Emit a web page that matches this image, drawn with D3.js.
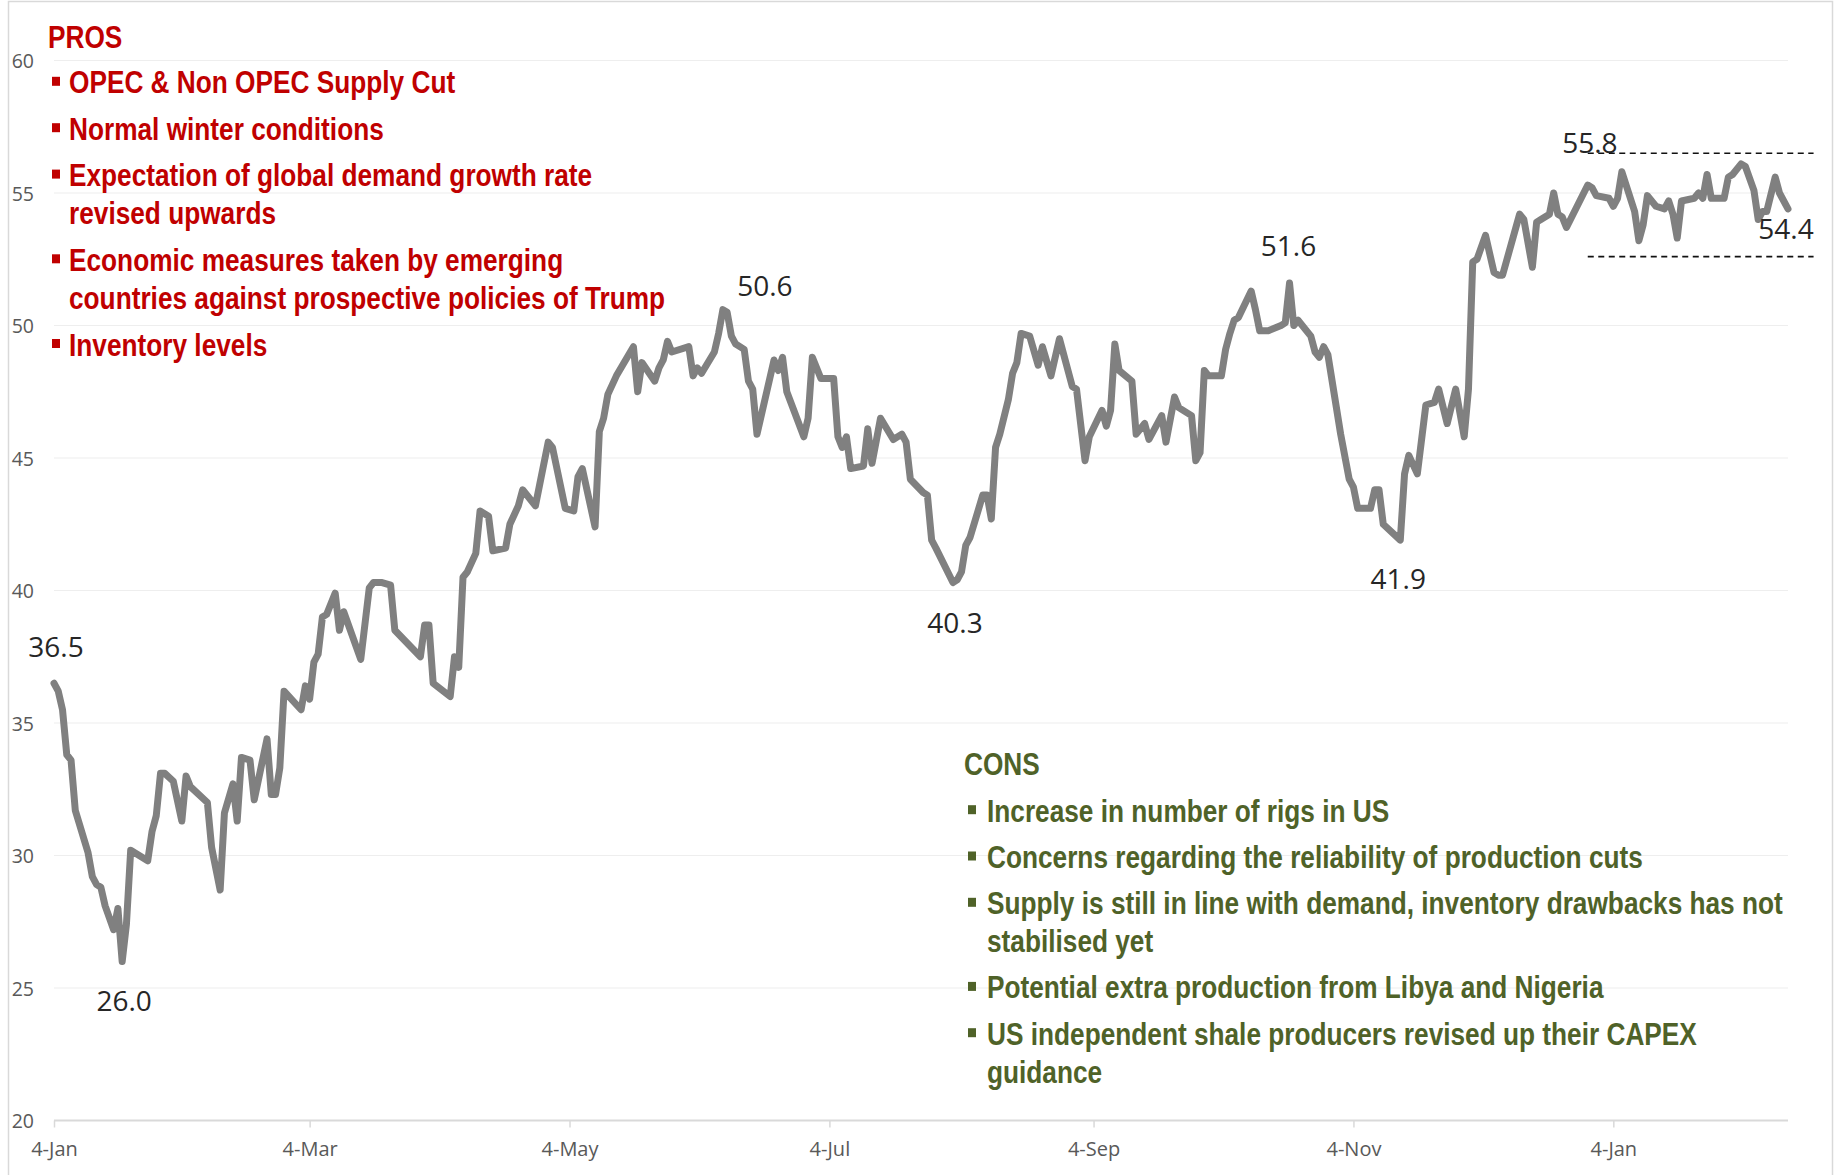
<!DOCTYPE html>
<html>
<head>
<meta charset="utf-8">
<script src="https://cdn.jsdelivr.net/npm/d3@7/dist/d3.min.js"></script>
<style>
  html, body { margin: 0; padding: 0; background: #ffffff; }
  svg { display: block; }
</style>
</head>
<body>
<svg id="chart" width="1835" height="1175"></svg>
<script>
// ---- Data -------------------------------------------------------------
const dates = [
  "2016-01-04","2016-01-05","2016-01-06","2016-01-07","2016-01-08","2016-01-09","2016-01-12","2016-01-13","2016-01-14","2016-01-15",
  "2016-01-16","2016-01-18","2016-01-19","2016-01-20","2016-01-21","2016-01-22","2016-01-26","2016-01-27","2016-01-28","2016-01-29",
  "2016-01-30","2016-02-01","2016-02-03","2016-02-04","2016-02-05","2016-02-09","2016-02-10","2016-02-12","2016-02-13","2016-02-15",
  "2016-02-16","2016-02-17","2016-02-19","2016-02-20","2016-02-23","2016-02-24","2016-02-25","2016-02-26","2016-02-27","2016-03-02",
  "2016-03-03","2016-03-04","2016-03-05","2016-03-06","2016-03-07","2016-03-08","2016-03-10","2016-03-11","2016-03-12","2016-03-16",
  "2016-03-18","2016-03-19","2016-03-21","2016-03-23","2016-03-24","2016-03-30","2016-03-31","2016-04-01","2016-04-02","2016-04-06",
  "2016-04-07","2016-04-08","2016-04-09","2016-04-10","2016-04-12","2016-04-13","2016-04-15","2016-04-16","2016-04-19","2016-04-20",
  "2016-04-22","2016-04-23","2016-04-26","2016-04-27","2016-04-29","2016-04-30","2016-05-03","2016-05-05","2016-05-06","2016-05-07",
  "2016-05-10","2016-05-11","2016-05-12","2016-05-13","2016-05-15","2016-05-19","2016-05-20","2016-05-21","2016-05-24","2016-05-25",
  "2016-05-26","2016-05-27","2016-05-28","2016-06-01","2016-06-02","2016-06-03","2016-06-04","2016-06-07","2016-06-08","2016-06-09",
  "2016-06-10","2016-06-11","2016-06-12","2016-06-14","2016-06-15","2016-06-16","2016-06-17","2016-06-21","2016-06-22","2016-06-23",
  "2016-06-24","2016-06-28","2016-06-29","2016-06-30","2016-07-02","2016-07-05","2016-07-06","2016-07-07","2016-07-08","2016-07-09",
  "2016-07-12","2016-07-13","2016-07-14","2016-07-16","2016-07-19","2016-07-21","2016-07-22","2016-07-23","2016-07-26","2016-07-27",
  "2016-07-28","2016-07-29","2016-08-02","2016-08-03","2016-08-04","2016-08-05","2016-08-06","2016-08-09","2016-08-10","2016-08-11",
  "2016-08-12","2016-08-13","2016-08-15","2016-08-16","2016-08-17","2016-08-18","2016-08-20","2016-08-22","2016-08-23","2016-08-25",
  "2016-08-27","2016-08-30","2016-08-31","2016-09-02","2016-09-03","2016-09-06","2016-09-07","2016-09-08","2016-09-09","2016-09-10",
  "2016-09-13","2016-09-14","2016-09-16","2016-09-17","2016-09-20","2016-09-21","2016-09-23","2016-09-24","2016-09-27","2016-09-28",
  "2016-09-29","2016-09-30","2016-10-01","2016-10-04","2016-10-05","2016-10-06","2016-10-07","2016-10-08","2016-10-11","2016-10-12",
  "2016-10-13","2016-10-15","2016-10-18","2016-10-19","2016-10-20","2016-10-21","2016-10-22","2016-10-25","2016-10-26","2016-10-27",
  "2016-10-28","2016-10-29","2016-10-31","2016-11-01","2016-11-03","2016-11-04","2016-11-05","2016-11-08","2016-11-09","2016-11-10",
  "2016-11-11","2016-11-15","2016-11-16","2016-11-17","2016-11-19","2016-11-21","2016-11-23","2016-11-24","2016-11-26","2016-11-28",
  "2016-11-30","2016-12-01","2016-12-02","2016-12-03","2016-12-05","2016-12-07","2016-12-08","2016-12-09","2016-12-13","2016-12-14",
  "2016-12-16","2016-12-17","2016-12-18","2016-12-20","2016-12-21","2016-12-22","2016-12-23","2016-12-24","2016-12-29","2016-12-30",
  "2016-12-31","2017-01-03","2017-01-04","2017-01-05","2017-01-06","2017-01-09","2017-01-10","2017-01-11","2017-01-12","2017-01-14",
  "2017-01-16","2017-01-17","2017-01-18","2017-01-19","2017-01-20","2017-01-23","2017-01-24","2017-01-25","2017-01-26","2017-01-27",
  "2017-01-30","2017-01-31","2017-02-01","2017-02-03","2017-02-04","2017-02-06","2017-02-07","2017-02-08","2017-02-09","2017-02-11",
  "2017-02-12","2017-02-14"
];
const prices = [
  36.5,36.2,35.5,33.8,33.6,31.7,30.1,29.2,28.9,28.8,
  28.1,27.2,28.0,26.0,27.4,30.2,29.8,30.9,31.5,33.1,
  33.1,32.8,31.3,33.0,32.6,32.0,30.3,28.7,31.6,32.7,
  31.3,33.7,33.6,32.1,34.4,32.3,32.3,33.3,36.2,35.5,
  36.4,35.9,37.3,37.6,39.0,39.1,39.9,38.5,39.2,37.4,
  40.1,40.3,40.3,40.2,38.5,37.5,38.7,38.7,36.5,36.0,
  37.5,37.1,40.5,40.7,41.4,43.0,42.8,41.5,41.6,42.5,
  43.2,43.8,43.2,44.0,45.6,45.4,43.1,43.0,44.3,44.6,
  42.4,46.0,46.5,47.4,48.1,49.2,47.5,48.6,47.9,48.4,
  48.7,49.4,49.0,49.2,48.1,48.4,48.2,49.0,49.7,50.6,
  50.5,49.6,49.3,49.1,47.9,47.6,45.9,48.7,48.3,48.8,
  47.5,45.8,46.5,48.8,48.0,48.0,45.8,45.4,45.8,44.6,
  44.7,46.1,44.8,46.5,45.7,45.9,45.6,44.2,43.7,43.6,
  41.9,41.6,40.3,40.4,40.7,41.7,42.0,43.6,43.6,42.7,
  45.4,45.9,47.2,48.2,48.6,49.7,49.6,48.5,49.2,48.1,
  49.5,47.7,47.6,44.9,45.8,46.8,46.2,46.8,49.3,48.3,
  47.9,45.9,46.3,45.7,46.6,45.6,47.3,46.9,46.6,44.9,
  45.2,48.3,48.1,48.1,49.1,49.7,50.2,50.3,51.3,50.6,
  49.8,49.8,50.0,50.1,51.6,50.0,50.2,49.6,49.0,48.8,
  49.2,48.9,46.9,45.9,44.2,43.9,43.1,43.1,43.8,43.8,
  42.5,41.9,44.4,45.1,44.4,47.0,47.1,47.6,46.3,47.6,
  45.8,47.6,52.4,52.5,53.4,52.0,51.9,51.9,54.2,54.0,
  52.2,53.9,54.0,54.2,55.0,54.2,54.1,53.7,55.3,55.2,
  54.9,54.8,54.5,54.8,55.8,54.3,53.2,53.8,54.9,54.5,
  54.4,54.7,54.2,53.3,54.7,54.8,55.0,54.8,55.7,54.8,
  54.8,55.6,55.7,56.1,56.0,55.1,54.0,54.3,54.3,55.6,
  55.0,54.4
];

const yTicks = [20, 25, 30, 35, 40, 45, 50, 55, 60];
const xTickDates = ["2016-01-04","2016-03-04","2016-05-04","2016-07-04","2016-09-04","2016-11-04","2017-01-04"];

// points whose value is printed next to the line
const labelledDates = ["2016-01-04","2016-01-20","2016-06-09","2016-08-02","2016-10-20","2016-11-15","2017-01-06","2017-02-14"];

// trading range of the last weeks (dashed guides)
const rangeLevels = [56.5, 52.6];
const rangeSpan = ["2016-12-29","2017-02-20"];

const prosTitle = "PROS";
const prosItems = [
  ["OPEC & Non OPEC Supply Cut"],
  ["Normal winter conditions"],
  ["Expectation of global demand growth rate", "revised upwards"],
  ["Economic measures taken by emerging", "countries against prospective policies of Trump"],
  ["Inventory levels"]
];
const consTitle = "CONS";
const consItems = [
  ["Increase in number of rigs in US"],
  ["Concerns regarding the reliability of production cuts"],
  ["Supply is still in line with demand, inventory drawbacks has not", "stabilised yet"],
  ["Potential extra production from Libya and Nigeria"],
  ["US independent shale producers revised up their CAPEX", "guidance"]
];

// ---- Layout -----------------------------------------------------------
const W = 1835, H = 1175;
const plot = { left: 54, right: 1788, top: 60.5, bottom: 1120.5 };
const parse = d3.timeParse("%Y-%m-%d");
const series = dates.map((d, i) => ({ date: parse(d), value: prices[i] }));

const svg = d3.select("#chart");

const x = d3.scaleTime()
  .domain([parse(dates[0]), parse(dates[dates.length - 1])])
  .range([plot.left, plot.right]);
const y = d3.scaleLinear().domain([20, 60]).range([plot.bottom, plot.top]);

// chart border
svg.append("rect")
  .attr("x", 8.5).attr("y", 1.5)
  .attr("width", 1824).attr("height", H + 10)
  .attr("fill", "#ffffff").attr("stroke", "#d9d9d9").attr("stroke-width", 1.5);

// horizontal gridlines
svg.append("g")
  .selectAll("line")
  .data(yTicks.filter(t => t > 20))
  .join("line")
  .attr("x1", plot.left).attr("x2", plot.right)
  .attr("y1", d => y(d)).attr("y2", d => y(d))
  .attr("stroke", "#eeeeee").attr("stroke-width", 1.2);

// y axis labels
const yAxis = d3.axisLeft(y).tickValues(yTicks).tickSize(0).tickPadding(0).tickFormat(d3.format("d"));
svg.append("g")
  .attr("transform", `translate(34,0)`)
  .call(yAxis)
  .call(g => g.select(".domain").remove())
  .call(g => g.selectAll("text")
    .attr("font-family", "'Open Sans', sans-serif")
    .attr("font-size", 19.5)
    .attr("fill", "#595959")
    .attr("dy", "0.36em"));

// x axis
const xAxis = d3.axisBottom(x)
  .tickValues(xTickDates.map(parse))
  .tickSize(7)
  .tickPadding(14)
  .tickFormat(d3.timeFormat("%-d-%b"));
svg.append("g")
  .attr("transform", `translate(0,${plot.bottom})`)
  .call(xAxis)
  .call(g => g.select(".domain").attr("stroke", "#d9d9d9").attr("stroke-width", 2)
    .attr("d", `M${plot.left},0H${plot.right}`))
  .call(g => g.selectAll(".tick line").attr("stroke", "#d9d9d9").attr("stroke-width", 1.5))
  .call(g => g.selectAll("text")
    .attr("font-family", "'Open Sans', sans-serif")
    .attr("font-size", 20)
    .attr("fill", "#595959"));

// price line
const line = d3.line().x(d => x(d.date)).y(d => y(d.value));
svg.append("path")
  .datum(series)
  .attr("d", line)
  .attr("fill", "none")
  .attr("stroke", "#808080")
  .attr("stroke-width", 7)
  .attr("stroke-linejoin", "round")
  .attr("stroke-linecap", "round");

// dashed range guides
svg.append("g")
  .selectAll("line")
  .data(rangeLevels)
  .join("line")
  .attr("x1", x(parse(rangeSpan[0]))).attr("x2", x(parse(rangeSpan[1])))
  .attr("y1", d => y(d)).attr("y2", d => y(d))
  .attr("stroke", "#111111").attr("stroke-width", 1.6)
  .attr("stroke-dasharray", "6,4.5");

// value labels: offset of each label from its point
const labelOffsets = [[2, -26], [2, 49], [42, -14], [2, 50], [-1, -27], [-2, 49], [-32, -19], [-2, 30]];
const byDate = new Map(series.map(d => [+d.date, d]));
svg.append("g")
  .selectAll("text")
  .data(labelledDates.map((d, i) => ({ p: byDate.get(+parse(d)), off: labelOffsets[i] })))
  .join("text")
  .attr("x", d => x(d.p.date) + d.off[0])
  .attr("y", d => y(d.p.value) + d.off[1])
  .attr("text-anchor", "middle")
  .attr("font-family", "'Open Sans', sans-serif")
  .attr("font-size", 28)
  .attr("fill", "#262626")
  .text(d => d.p.value.toFixed(1));

// PROS / CONS text blocks
function textBlock(title, items, opts) {
  const g = svg.append("g").attr("fill", opts.color)
    .attr("font-family", "'Liberation Sans', Arial, sans-serif")
    .attr("font-weight", "bold")
    .attr("font-size", 32);
  const put = (str, tx, ty) => g.append("text")
    .attr("transform", `translate(${tx},${ty}) scale(0.82,1)`)
    .text(str);
  put(title, opts.x, opts.titleY);
  let by = opts.titleY + opts.firstGap;
  items.forEach(lines => {
    g.append("rect")
      .attr("x", opts.x + 4).attr("y", by - 16.5)
      .attr("width", 8).attr("height", 9);
    lines.forEach((ln, j) => put(ln, opts.x + opts.indent, by + j * opts.wrapGap));
    by += (lines.length - 1) * opts.wrapGap + opts.itemGap;
  });
}
textBlock(prosTitle, prosItems, { x: 48, indent: 21, titleY: 48.3, firstGap: 45, wrapGap: 38.3, itemGap: 46.4, color: "#C00000" });
textBlock(consTitle, consItems, { x: 964, indent: 23, titleY: 775, firstGap: 46.7, wrapGap: 37.8, itemGap: 46.3, color: "#4F6228" });
</script>
</body>
</html>
